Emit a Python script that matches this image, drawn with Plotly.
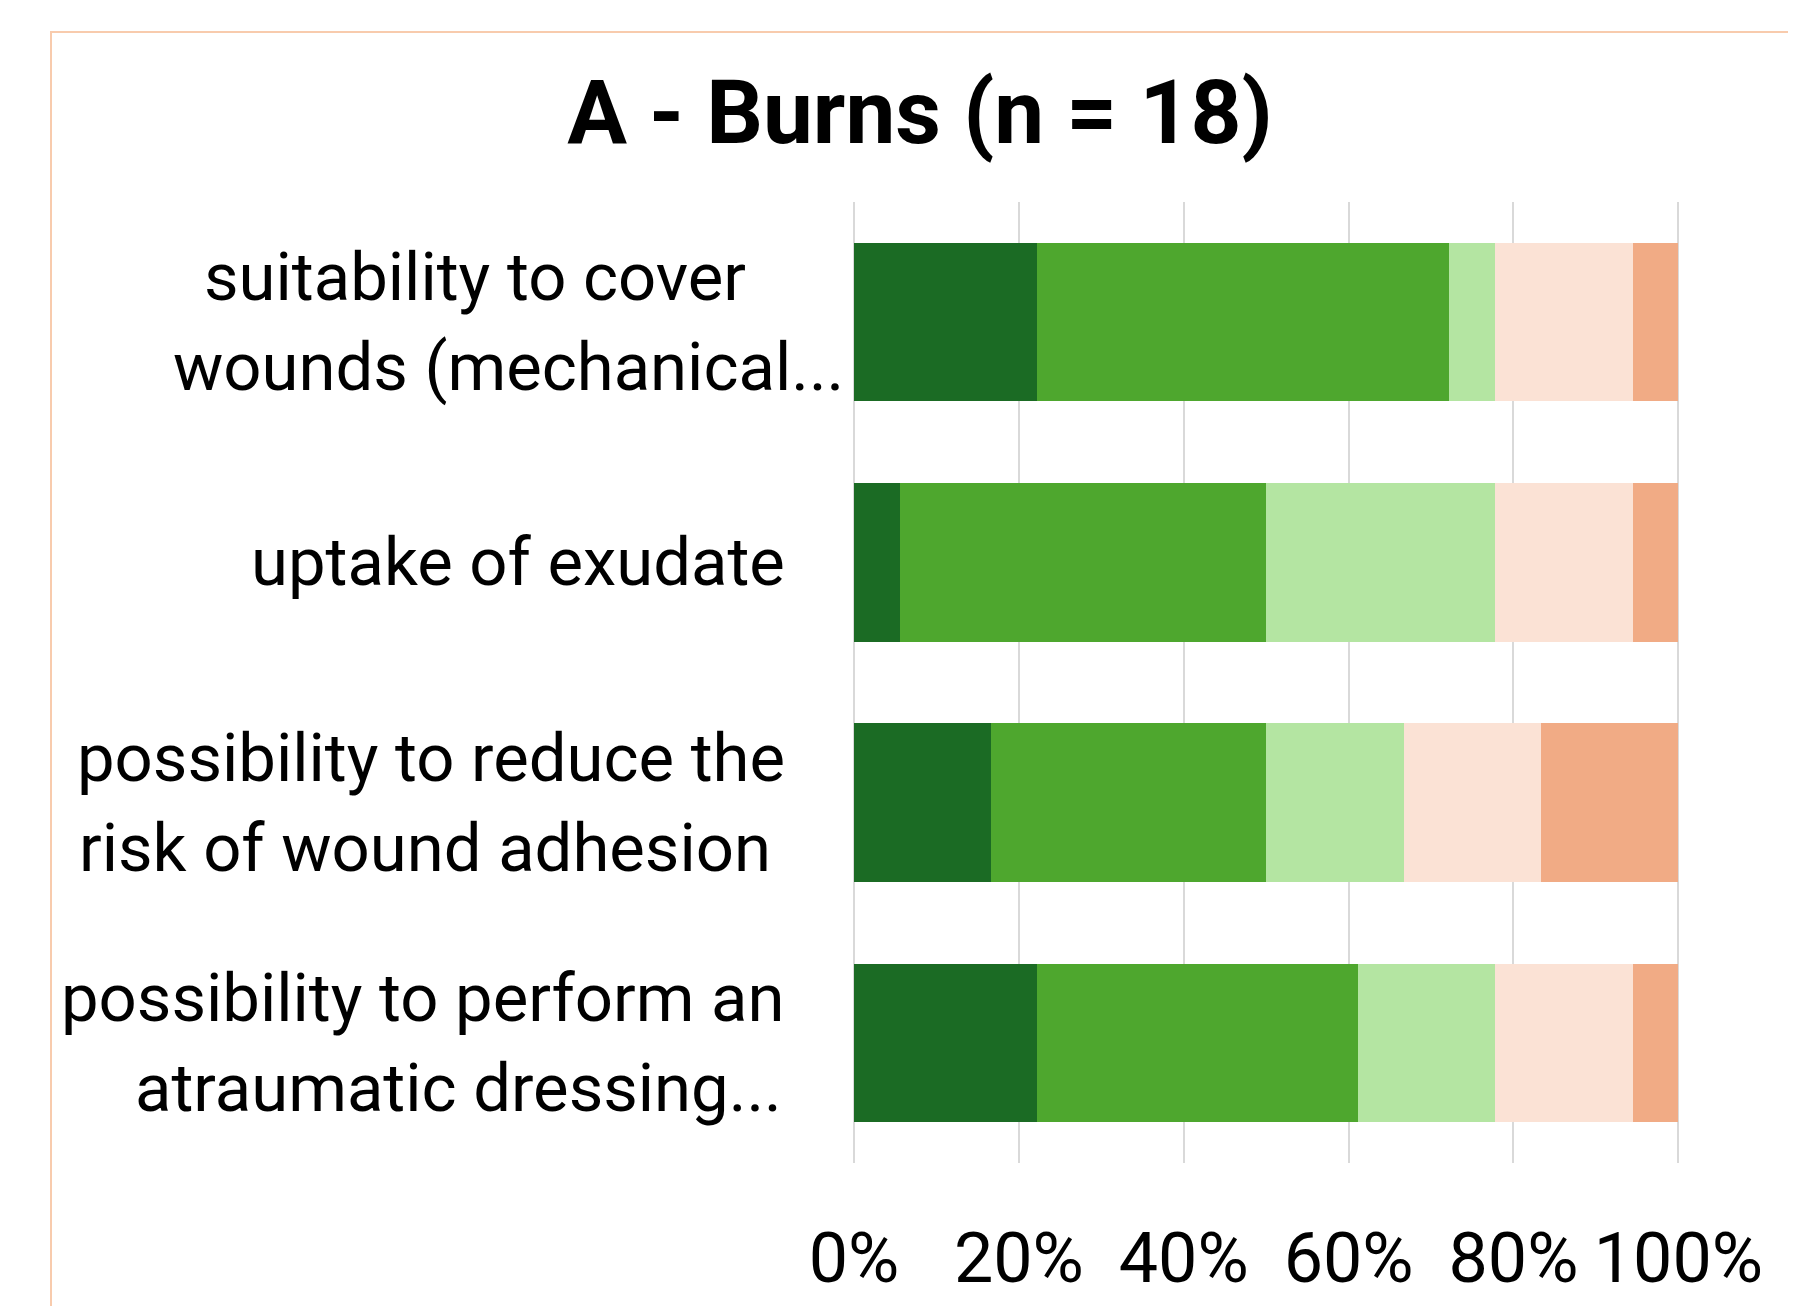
import plotly.graph_objects as go


FONT = "Roboto"
TEXT = "#000000"
GRID = "#D9D9D9"
BORDER = "#F8CBAD"

# answers per item, n = 18 respondents
CATEGORIES = [
    "suitability to cover<br>wounds (mechanical...",
    "uptake of exudate",
    "possibility to reduce the<br>risk of wound adhesion",
    "possibility to perform an<br>atraumatic dressing...",
]
N = 18

LEVEL_NAMES = ["very good", "good", "satisfactory", "poor", "very poor"]
LEVEL_COLORS = ["#1B6B24", "#4EA72E", "#B4E5A2", "#FBE2D5", "#F1AB85"]

VERY_GOOD = [4, 1, 3, 4]
GOOD = [9, 8, 6, 7]
SATISFACTORY = [1, 5, 3, 3]
POOR = [3, 3, 3, 3]
VERY_POOR = [1, 1, 3, 1]

TICK_VALUES = [0, 0.2, 0.4, 0.6, 0.8, 1.0]
TICK_LABELS = ["0%", "20%", "40%", "60%", "80%", "100%"]

# right edge of every label line (paper coords of the x axis)
LINE_RIGHT = [
    [-0.128, -0.0098],
    [-0.0807],
    [-0.0807, -0.0975],
    [-0.0807, -0.0850],
]
LINE_GAP = 90

# the page body adds an 8px margin, so the figure is drawn 8px in
OFF = 8
W, H = 1796 - OFF, 1306 - OFF
L, T = 854 - OFF, 202 - OFF
PW, PH = 826, 961
R, B = W - L - PW, H - T - PH


fig = go.Figure()

for name, color, counts in zip(
    LEVEL_NAMES,
    LEVEL_COLORS,
    [VERY_GOOD, GOOD, SATISFACTORY, POOR, VERY_POOR],
):
    fig.add_trace(
        go.Bar(
            name=name,
            y=CATEGORIES,
            x=[c / N for c in counts],
            orientation="h",
            marker=dict(color=color, line_width=0),
            hovertemplate="%{y}<br>%{x:.0%}<extra>" + name + "</extra>",
        )
    )


# category labels, one annotation per line like the Excel layout
for cat, rights in zip(CATEGORIES, LINE_RIGHT):
    lines = cat.split("<br>")
    for i, (line, xr) in enumerate(zip(lines, rights)):
        shift = (len(lines) - 1) / 2 * LINE_GAP - i * LINE_GAP
        fig.add_annotation(
            x=xr,
            xref="paper",
            y=cat,
            yref="y",
            yshift=shift,
            text=line,
            showarrow=False,
            xanchor="right",
            yanchor="middle",
            font=dict(family=FONT, size=67, color=TEXT),
        )


# thin peach frame round the chart (screen pixels -> paper)
fig.add_shape(
    type="rect",
    xref="paper",
    yref="paper",
    x0=(51 - OFF - L) / PW,
    x1=(1793 - OFF - L) / PW,
    y0=(H - B - (1330 - OFF)) / PH,
    y1=(H - B - (32 - OFF)) / PH,
    line=dict(color=BORDER, width=2),
    fillcolor="rgba(0,0,0,0)",
    layer="below",
)


fig.update_layout(
    width=W,
    height=H,
    barmode="stack",
    bargap=0.34,
    showlegend=False,
    paper_bgcolor="white",
    plot_bgcolor="white",
    margin=dict(l=L, r=R, t=T, b=B, autoexpand=False),
    font=dict(family=FONT, color=TEXT, size=70),
    title=dict(
        text="<b>A - Burns (n = 18)</b>",
        x=(920 - OFF) / W,
        xanchor="center",
        y=1 - (111.5 - OFF) / H,
        yanchor="middle",
        font=dict(family=FONT, size=89, color=TEXT),
    ),
)

fig.update_xaxes(
    range=[0, 1.002],
    tickvals=TICK_VALUES,
    ticktext=TICK_LABELS,
    showgrid=True,
    gridcolor=GRID,
    gridwidth=2,
    zeroline=True,
    zerolinecolor=GRID,
    zerolinewidth=2,
    showline=False,
    ticks="",
    ticklabelstandoff=48,
    tickfont=dict(family=FONT, size=70, color=TEXT),
)

fig.update_yaxes(
    autorange="reversed",
    showticklabels=False,
    showgrid=False,
    zeroline=False,
    showline=False,
    ticks="",
)


fig.write_html("out.html")
